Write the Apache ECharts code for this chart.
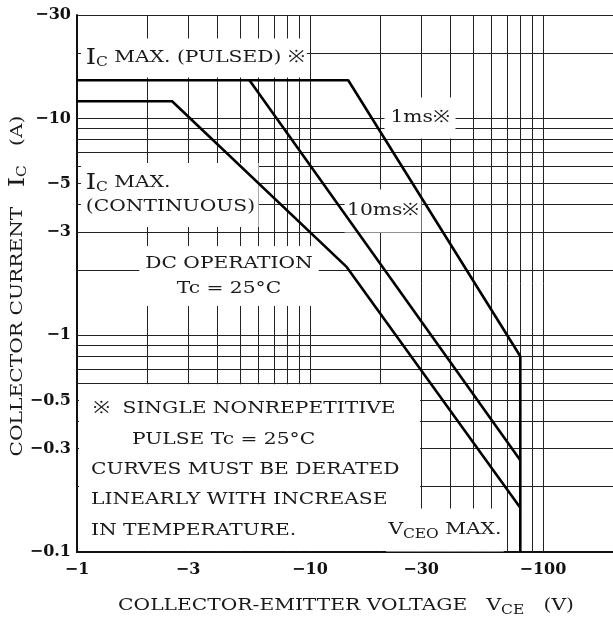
<!DOCTYPE html>
<html>
<head>
<meta charset="utf-8">
<script src="https://cdn.jsdelivr.net/npm/echarts@6/dist/echarts.min.js"></script>
<style>
html, body { margin: 0; padding: 0; background: #fff; }
#main { width: 613px; height: 623px; }
</style>
</head>
<body>
<div id="main"></div>
<script>
// grid lines of the datasheet paper
const xGridValues = [2, 3, 4, 5, 6, 7, 8, 9, 10, 20, 30, 40, 50, 60, 70, 80, 90, 100];
const yGridValues = [0.2, 0.3, 0.4, 0.5, 0.6, 0.7, 0.8, 0.9, 1, 2, 3, 4, 5, 6, 7, 8, 9, 10, 20, 30];
// tick labels
const xLabelValues = [1, 3, 10, 30, 100];
const yLabelValues = [0.1, 0.3, 0.5, 1, 3, 5, 10, 30];
// curves [V, A] (drawn as magnitudes, labels carry the minus sign)
const curve1ms = [[1, 15], [14.6, 15], [80, 0.8]];
const curve10ms = [[5.5, 15], [80, 0.265]];
const curveDC = [[1, 12], [2.56, 12], [14.4, 2.06], [80, 0.16]];
const vceoMax = [[80, 0.8], [80, 0.1]];
// note in the lower left corner
const noteLines = [
  '※  SINGLE NONREPETITIVE',
  'PULSE Tc = 25°C',
  'CURVES MUST BE DERATED',
  'LINEARLY WITH INCREASE',
  'IN TEMPERATURE.'
];

const SERIF = '"DejaVu Serif", "Liberation Serif", serif';
const SX = 1.19; // the datasheet face is wider than DejaVu Serif
const chart = echarts.init(document.getElementById('main'));

function curve(data) {
  return {
    type: 'line', data: data, showSymbol: false, z: 5,
    lineStyle: { color: '#000', width: 2.6 }
  };
}

const gridSegs = xGridValues.map(v => ({ coords: [[v, 0.1], [v, 30]] }))
  .concat(yGridValues.map(v => ({ coords: [[1, v], [200, v]] })));

chart.setOption({
  animation: false,
  grid: { left: 77, top: 15, right: 0, bottom: 71 },
  xAxis: {
    type: 'log', logBase: 10, min: 1, max: 200,
    axisLine: { lineStyle: { color: '#111', width: 2 } },
    axisTick: { show: false },
    splitLine: { show: false },
    axisLabel: {
      customValues: xLabelValues, margin: 10,
      formatter: v => '−' + v,
      color: '#111', fontSize: 16, fontWeight: 'bold', fontFamily: SERIF
    }
  },
  yAxis: {
    type: 'log', logBase: 10, min: 0.1, max: 30,
    axisLine: { show: true, lineStyle: { color: '#111', width: 2 } },
    axisTick: { show: false },
    splitLine: { show: false },
    axisLabel: {
      customValues: yLabelValues, margin: 6,
      formatter: v => '−' + v,
      color: '#111', fontSize: 16, fontWeight: 'bold', fontFamily: SERIF
    }
  },
  series: [
    {
      type: 'lines', coordinateSystem: 'cartesian2d', z: 1, silent: true,
      lineStyle: { color: '#222', width: 1, opacity: 1 },
      data: gridSegs
    },
    curve(curve1ms),
    curve(curve10ms),
    curve(curveDC),
    curve(vceoMax)
  ]
});

const p0 = chart.convertToPixel({ gridIndex: 0 }, [1, 0.6]);
const p1 = chart.convertToPixel({ gridIndex: 0 }, [30, 0.1]);

const sub = { fontSize: 13, fontFamily: SERIF, padding: [10, 0, 0, 0], fill: '#1a1a1a' };
const big = { fontSize: 22, fontFamily: SERIF, fill: '#1a1a1a' };

function label(x, y, text, opts) {
  return {
    type: 'text', x: x, y: y, z: 3, scaleX: SX, silent: true,
    style: Object.assign({
      text: text, fill: '#1a1a1a', fontSize: 17, fontFamily: SERIF,
      backgroundColor: '#fff', padding: [6, 6], verticalAlign: 'middle',
      rich: { sub: sub, big: big }
    }, opts || {})
  };
}

const noteX = [93, 132, 91, 91, 91];
const noteY = [409, 440, 470, 500, 531];

chart.setOption({
  graphic: [
    {
      type: 'rect', z: 3, silent: true,
      shape: { x: p0[0] + 2, y: p0[1] + 1, width: p1[0] - p0[0] - 3, height: p1[1] - p0[1] - 2 },
      style: { fill: '#fff' }
    },
    label(81, 58, '{big|I}{sub|C} MAX. (PULSED) ※', { padding: [8, 2, 8, 4] }),
    label(81, 195, '{big|I}{sub|C} MAX.\n(CONTINUOUS)', { lineHeight: 24, padding: [8, 3, 8, 4] }),
    label(229, 276, 'DC OPERATION\nTc = 25°C', { align: 'center', lineHeight: 25, padding: [5, 5] }),
    label(420, 118, '1ms※', { align: 'center', padding: [12, 5] }),
    label(383, 211, '10ms※', { align: 'center', padding: [13, 2] }),
    label(386, 530, 'V{sub|CEO} MAX.', { padding: [10, 2, 10, 2] })
  ].concat(noteLines.map((t, i) => ({
    type: 'text', x: noteX[i], y: noteY[i], z: 4, scaleX: SX, silent: true,
    style: { text: t, fill: '#1a1a1a', fontSize: 17, fontFamily: SERIF, verticalAlign: 'middle' }
  }))).concat([
    {
      type: 'text', x: 18, y: 286, rotation: Math.PI / 2, z: 4, scaleX: SX, silent: true,
      style: {
        text: 'COLLECTOR CURRENT   {big|I}{sub|C}   (A)', align: 'center', verticalAlign: 'middle',
        fill: '#1a1a1a', fontSize: 17, fontFamily: SERIF, rich: { sub: sub, big: big }
      }
    },
    {
      type: 'text', x: 346, y: 606, z: 4, scaleX: SX, silent: true,
      style: {
        text: 'COLLECTOR-EMITTER VOLTAGE   V{sub|CE}   (V)', align: 'center', verticalAlign: 'middle',
        fill: '#1a1a1a', fontSize: 17, fontFamily: SERIF, rich: { sub: sub }
      }
    }
  ])
});
</script>
</body>
</html>
